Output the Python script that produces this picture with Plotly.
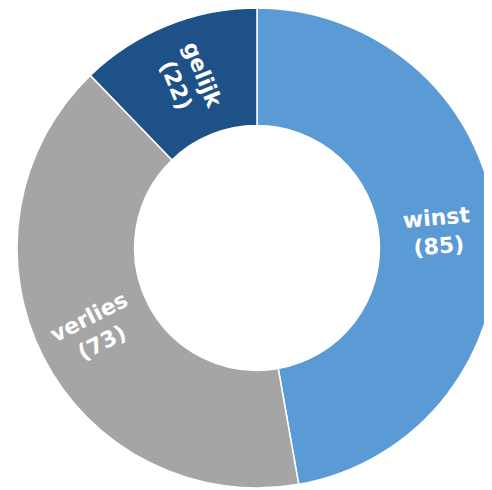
import math
import plotly.graph_objects as go

labels = ["winst", "verlies", "gelijk"]
values = [85, 73, 22]
colors = ["#5B9BD5", "#A5A5A5", "#1F5189"]

HOLE = 0.51
PLOT = 480  # pie plot area (px), square

fig = go.Figure(go.Pie(
    labels=labels,
    values=values,
    textinfo="none",
    hole=HOLE,
    sort=False,
    direction="clockwise",
    rotation=0,
    marker=dict(colors=colors, line=dict(color="white", width=1.5)),
    showlegend=False,
    hoverinfo="label+value",
))

# radial data labels, placed at the middle of each slice's ring
total = sum(values)
cum = 0
r_text = (1 + HOLE) / 2 * 0.5  # in paper units (radius = 0.5 of plot)
for lab, v in zip(labels, values):
    mid = (cum + v / 2) / total * 360.0  # degrees clockwise from top
    cum += v
    th = math.radians(90 - mid)
    x = 0.5 + r_text * math.cos(th)
    y = 0.5 + r_text * math.sin(th)
    ang = mid - 90 if mid < 180 else mid - 270
    fig.add_annotation(
        x=x, y=y, xref="paper", yref="paper",
        text=f"{lab}<br>({v})",
        showarrow=False,
        textangle=ang,
        xanchor="center", yanchor="middle",
        font=dict(family="DejaVu Sans", size=22, color="white", weight="bold"),
    )

fig.update_layout(
    width=PLOT + 9, height=PLOT,
    margin=dict(l=9, r=0, t=0, b=0),
    paper_bgcolor="white",
    plot_bgcolor="white",
)
fig.write_html("out.html")
